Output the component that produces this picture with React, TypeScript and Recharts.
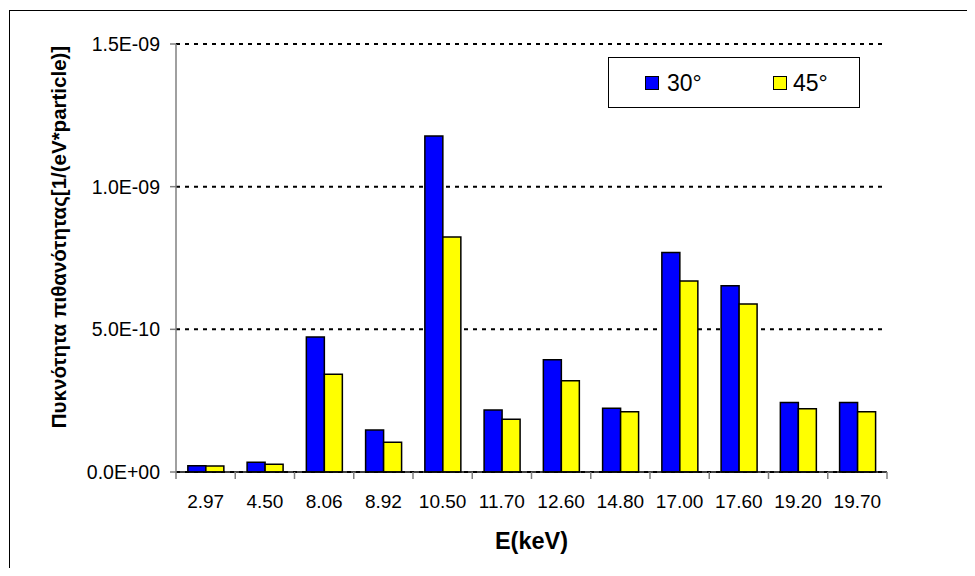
import React from "react";
import { BarChart, Bar, XAxis, YAxis, CartesianGrid, Legend } from "recharts";

const categories = ["2.97", "4.50", "8.06", "8.92", "10.50", "11.70", "12.60", "14.80", "17.00", "17.60", "19.20", "19.70"];
const series30 = [2.2e-11, 3.4e-11, 4.73e-10, 1.47e-10, 1.178e-9, 2.17e-10, 3.93e-10, 2.23e-10, 7.69e-10, 6.53e-10, 2.44e-10, 2.44e-10];
const series45 = [2.1e-11, 2.7e-11, 3.43e-10, 1.04e-10, 8.24e-10, 1.85e-10, 3.2e-10, 2.11e-10, 6.69e-10, 5.89e-10, 2.22e-10, 2.11e-10];
const yTicks = [0, 5e-10, 1e-9, 1.5e-9];
const seriesNames = ["30°", "45°"];
const seriesColors = ["#0000FF", "#FFFF00"];
const xTitle = "E(keV)";
const yTitle = "Πυκνότητα πιθανότητας[1/(eV*particle)]";

const data = categories.map((c, i) => ({ cat: c, a: series30[i], b: series45[i] }));

const FONT = "Arial, 'Liberation Sans', sans-serif";
const W = 959;
const H = 560;
const M = { top: 36, right: 80, bottom: 0, left: 0 };
const Y_W = 168;
const X_H = 96;
const PLOT_W = W - M.left - M.right - Y_W;
const BW = PLOT_W / categories.length;

const fmt = (v: number) => {
  if (v === 0) return "0.0E+00";
  const [m, e] = v.toExponential(1).split("e");
  const n = parseInt(e, 10);
  return `${m}E${n < 0 ? "-" : "+"}${String(Math.abs(n)).padStart(2, "0")}`;
};

const XTick = (props: any) => {
  const { x, y, payload, index } = props;
  const last = index === categories.length - 1;
  return (
    <g>
      <line x1={x - BW / 2} x2={x - BW / 2} y1={y} y2={y + 7} stroke="#808080" strokeWidth={1.5} />
      {last && <line x1={x + BW / 2} x2={x + BW / 2} y1={y} y2={y + 7} stroke="#808080" strokeWidth={1.5} />}
      <text x={x} y={y + 29} textAnchor="middle" dominantBaseline="central" fontSize={19} fontFamily={FONT} fill="#000">
        {payload.value}
      </text>
    </g>
  );
};

const YTick = (props: any) => {
  const { x, y, payload } = props;
  return (
    <text x={x} y={y} textAnchor="end" dominantBaseline="central" fontSize={19.5} fontFamily={FONT} fill="#000">
      {fmt(payload.value)}
    </text>
  );
};

const LegendBox = () => (
  <div
    style={{
      position: "relative",
      width: 252,
      height: 51,
      border: "1.5px solid #000",
      boxSizing: "border-box",
      background: "#fff",
      fontFamily: FONT,
    }}
  >
    {seriesNames.map((n, i) => (
      <React.Fragment key={n}>
        <div
          style={{
            position: "absolute",
            left: i === 0 ? 36 : 164,
            top: 18,
            width: 14,
            height: 14,
            background: seriesColors[i],
            border: "1px solid #000",
            boxSizing: "border-box",
          }}
        />
        <div
          style={{
            position: "absolute",
            left: i === 0 ? 58 : 184,
            top: 10,
            fontSize: 23,
            lineHeight: "30px",
            color: "#000",
          }}
        >
          {n}
        </div>
      </React.Fragment>
    ))}
  </div>
);

export default function App() {
  return (
    <div style={{ position: "relative", width: W, height: H }}>
      <div
        style={{
          position: "absolute",
          left: 1,
          top: 2,
          width: 958,
          height: 566,
          borderLeft: "1px solid #000",
          borderTop: "1px solid #000",
          boxSizing: "border-box",
        }}
      />
      <div style={{ position: "absolute", left: 0, top: 0 }}>
        <BarChart
          width={W}
          height={H}
          data={data}
          margin={M}
          barCategoryGap="20%"
          barGap={0}
          style={{ fontFamily: FONT }}
        >
          <CartesianGrid horizontal vertical={false} stroke="#000" strokeWidth={2} strokeDasharray="4 5" />
          <XAxis
            dataKey="cat"
            height={X_H}
            tickSize={0}
            tickMargin={0}
            tickLine={false}
            axisLine={{ stroke: "#000", strokeWidth: 1.5 }}
            tick={<XTick />}
            interval={0}
            label={(p: any) => {
              const vb = p.viewBox;
              return (
                <text
                  x={vb.x + vb.width / 2}
                  y={533}
                  textAnchor="middle"
                  dominantBaseline="central"
                  fontSize={23.5}
                  fontWeight="bold"
                  fontFamily={FONT}
                  fill="#000"
                >
                  {xTitle}
                </text>
              );
            }}
          />
          <YAxis
            width={Y_W}
            domain={[0, 1.5e-9]}
            ticks={yTicks}
            tickSize={6}
            tickMargin={10}
            tickLine={{ stroke: "#808080", strokeWidth: 1.5 }}
            axisLine={{ stroke: "#808080", strokeWidth: 1.5 }}
            tick={<YTick />}
            interval={0}
            label={() => (
              <text
                x={50}
                y={229}
                transform="rotate(-90 50 229)"
                textAnchor="middle"
                dominantBaseline="central"
                fontSize={20.5}
                fontWeight="bold"
                fontFamily={FONT}
                fill="#000"
              >
                {yTitle}
              </text>
            )}
          />
          <Legend
            layout="horizontal"
            verticalAlign="middle"
            align="center"
            content={() => <LegendBox />}
            wrapperStyle={{ position: "absolute", left: 600, top: 49, width: 252, height: 51 }}
          />
          <Bar dataKey="a" name={seriesNames[0]} fill={seriesColors[0]} stroke="#000" strokeWidth={1.5} isAnimationActive={false} />
          <Bar dataKey="b" name={seriesNames[1]} fill={seriesColors[1]} stroke="#000" strokeWidth={1.5} isAnimationActive={false} />
        </BarChart>
      </div>
    </div>
  );
}
